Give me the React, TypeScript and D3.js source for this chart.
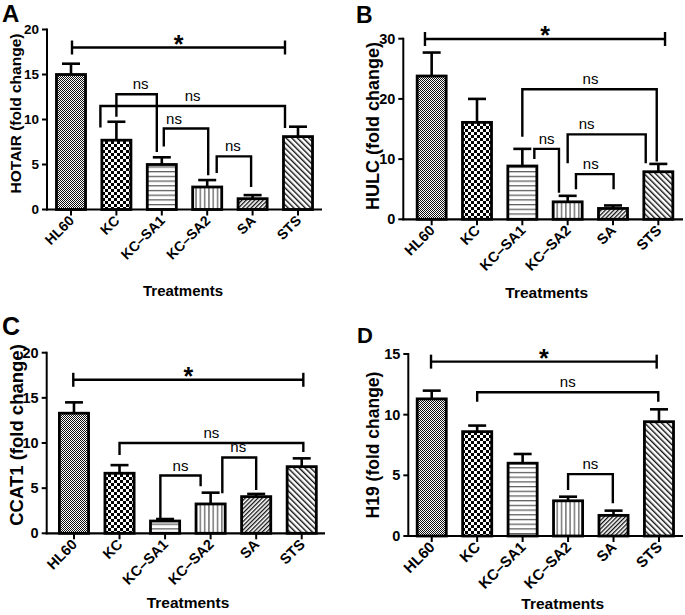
import React from "react";
import * as d3 from "d3";

const categories = ["HL60", "KC", "KC–SA1", "KC–SA2", "SA", "STS"];
const patternIds = ["pFine", "pCheck", "pHoriz", "pVert", "pDiagUp", "pDiagDown"];

const hotairValues = [15.0, 7.7, 5.0, 2.5, 1.2, 8.1];
const hotairErrors = [1.2, 2.05, 0.8, 0.77, 0.4, 1.1];
const hotairTicks = [0, 5, 10, 15, 20];

const hulcValues = [23.8, 16.1, 8.85, 2.9, 1.8, 7.9];
const hulcErrors = [3.9, 3.9, 2.85, 1.0, 0.5, 1.3];
const hulcTicks = [0, 10, 20, 30];

const ccat1Values = [13.3, 6.65, 1.36, 3.25, 4.06, 7.38];
const ccat1Errors = [1.2, 0.9, 0.22, 1.25, 0.3, 0.92];
const ccat1Ticks = [0, 5, 10, 15, 20];

const h19Values = [11.3, 8.6, 6.0, 2.9, 1.7, 9.42];
const h19Errors = [0.68, 0.5, 0.76, 0.34, 0.39, 1.02];
const h19Ticks = [0, 5, 10, 15];

// significance brackets: from/to category index, top level (value), leg ends (value), label
const hotairBrackets = [
  { from: 0, to: 5, top: 18.0, label: "*", dxL: 1, dxR: -13 },
  { from: 1, to: 2, top: 12.8, endL: 10.3, endR: 6.4, label: "ns", dxL: 0, dxR: -5, ldx: 4 },
  { from: 1, to: 5, top: 11.5, endL: 9.1, endR: 9.05, label: "ns", dxL: -16, dxR: -13, ldx: 0 },
  { from: 2, to: 3, top: 9.0, endL: 7.0, endR: 3.8, label: "ns", dxL: 2, dxR: 1, ldx: -12 },
  { from: 3, to: 4, top: 5.9, endL: 4.05, endR: 2.5, label: "ns", dxL: 9.5, dxR: -1.5, ldx: -1 },
];
const hulcBrackets = [
  { from: 0, to: 5, top: 29.95, label: "*", dxL: -6.7, dxR: 6.7 },
  { from: 2, to: 5, top: 21.6, endL: 13.7, endR: 9.6, label: "ns", dxL: 0, dxR: -1.6, ldx: 1 },
  { from: 2, to: 3, top: 11.7, endL: 10.0, endR: 4.4, label: "ns", dxL: 12, dxR: -8.7, ldx: 0 },
  { from: 3, to: 5, top: 14.1, endL: 9.3, endR: 9.3, label: "ns", dxL: 0, dxR: -12.6, ldx: -20 },
  { from: 3, to: 4, top: 7.5, endL: 5.0, endR: 5.0, label: "ns", dxL: 8.3, dxR: 0.6, ldx: -4 },
];
const ccat1Brackets = [
  { from: 0, to: 5, top: 17.0, label: "*", dxL: -0.7, dxR: 1.6 },
  { from: 1, to: 5, top: 10.0, endL: 8.67, endR: 9.0, label: "ns", dxL: 0, dxR: 1.6, ldx: 0 },
  { from: 2, to: 3, top: 6.4, endL: 1.66, endR: 5.2, label: "ns", dxL: -4.7, dxR: -10, ldx: 0 },
  { from: 3, to: 4, top: 8.4, endL: 4.43, endR: 4.8, label: "ns", dxL: 11.7, dxR: 0, ldx: -1 },
];
const h19Brackets = [
  { from: 0, to: 5, top: 14.37, label: "*", dxL: -0.7, dxR: -2.3 },
  { from: 1, to: 5, top: 11.85, endL: 11.07, endR: 11.07, label: "ns", dxL: 0, dxR: -0.7, ldx: 0 },
  { from: 3, to: 4, top: 5.1, endL: 3.8, endR: 2.7, label: "ns", dxL: 0, dxR: -0.7, ldx: 0 },
];

const FONT = "'Liberation Sans', Arial, Helvetica, sans-serif";

type PanelProps = {
  letter: string;
  title: string;
  values: number[];
  errors: number[];
  ticks: number[];
  brackets: any[];
  layout: any;
};

function Panel({ letter, title, values, errors, ticks, brackets, layout: L }: PanelProps) {
  const yMax = ticks[ticks.length - 1];
  const y = d3.scaleLinear().domain([0, yMax]).range([L.y0, L.yTop]);
  const x = d3
    .scaleBand<string>()
    .domain(categories)
    .range(L.xRange)
    .paddingInner(0.36)
    .paddingOuter(0.18);
  const bw = x.bandwidth();
  const cx = (i: number) => (x(categories[i]) as number) + bw / 2;
  const capW = 18;

  return (
    <g fontFamily={FONT}>
      <text x={L.letter[0]} y={L.letter[1]} fontSize={L.letterSize} fontWeight="bold">
        {letter}
      </text>
      <text
        transform={`translate(${L.titleX},${L.titleY}) rotate(-90)`}
        textAnchor="middle"
        dominantBaseline="central"
        fontSize={L.titleSize}
        fontWeight="bold"
      >
        {title}
      </text>
      {values.map((v, i) => (
        <g key={i}>
          <line x1={cx(i)} x2={cx(i)} y1={y(v)} y2={y(v + errors[i])} stroke="#000" strokeWidth={2.6} />
          <line
            x1={cx(i) - capW / 2}
            x2={cx(i) + capW / 2}
            y1={y(v + errors[i])}
            y2={y(v + errors[i])}
            stroke="#000"
            strokeWidth={2.6}
          />
          <rect
            x={x(categories[i])}
            y={y(v)}
            width={bw}
            height={L.y0 - y(v)}
            fill={`url(#${patternIds[i]})`}
            stroke="#000"
            strokeWidth={2.8}
          />
        </g>
      ))}
      <line x1={L.axisX} x2={L.axisX} y1={L.y0 + 1} y2={y(yMax) - 1} stroke="#000" strokeWidth={2} />
      <line x1={L.axisX - 1} x2={L.xAxisEnd} y1={L.y0} y2={L.y0} stroke="#000" strokeWidth={2.2} />
      {ticks.map((t) => (
        <g key={t}>
          <line x1={L.axisX - 5} x2={L.axisX} y1={y(t)} y2={y(t)} stroke="#000" strokeWidth={2} />
          <text
            x={L.axisX - 8}
            y={y(t)}
            textAnchor="end"
            dominantBaseline="central"
            fontSize={L.tickSize}
            fontWeight="bold"
          >
            {t}
          </text>
        </g>
      ))}
      {categories.map((c, i) => (
        <g key={c}>
          <line x1={cx(i)} x2={cx(i)} y1={L.y0} y2={L.y0 + 6} stroke="#000" strokeWidth={2} />
          <text
            transform={`translate(${cx(i) + 4},${L.y0 + 12}) rotate(-45)`}
            textAnchor="end"
            fontSize={L.xSize}
            fontWeight="bold"
          >
            {c}
          </text>
        </g>
      ))}
      <text x={L.treatX} y={L.treatY} textAnchor="middle" fontSize={L.treatSize} fontWeight="bold">
        Treatments
      </text>
      {brackets.map((b, k) => {
        const xl = cx(b.from) + b.dxL;
        const xr = cx(b.to) + b.dxR;
        const yt = y(b.top);
        if (b.label === "*") {
          return (
            <g key={k}>
              <line x1={xl} x2={xr} y1={yt} y2={yt} stroke="#000" strokeWidth={2.4} />
              <line x1={xl} x2={xl} y1={yt - 7} y2={yt + 7} stroke="#000" strokeWidth={2.4} />
              <line x1={xr} x2={xr} y1={yt - 7} y2={yt + 7} stroke="#000" strokeWidth={2.4} />
              <text x={(xl + xr) / 2} y={yt + 5} textAnchor="middle" fontSize={25} fontWeight="bold">
                *
              </text>
            </g>
          );
        }
        const path = `M${xl},${y(b.endL)}V${yt}H${xr}V${y(b.endR)}`;
        return (
          <g key={k}>
            <path d={path} fill="none" stroke="#000" strokeWidth={2.4} />
            <text x={(xl + xr) / 2 + b.ldx} y={yt - 5} textAnchor="middle" fontSize={L.nsSize}>
              {b.label}
            </text>
          </g>
        );
      })}
    </g>
  );
}

const layoutA = {
  axisX: 47, xRange: [48.3, 320.7], xAxisEnd: 322, y0: 209.5, yTop: 29.5,
  letter: [2, 22], letterSize: 24, titleX: 15, titleY: 113.5, titleSize: 15.5,
  tickSize: 13.5, xSize: 14, treatX: 183, treatY: 296, treatSize: 15, nsSize: 15,
};
const layoutB = {
  axisX: 403.3, xRange: [409, 681], xAxisEnd: 683, y0: 219.3, yTop: 38.7,
  letter: [356, 23], letterSize: 23, titleX: 372.5, titleY: 126, titleSize: 18,
  tickSize: 14.5, xSize: 14.5, treatX: 546.7, treatY: 298, treatSize: 15.5, nsSize: 15,
};
const layoutC = {
  axisX: 46.7, xRange: [51.2, 324.5], xAxisEnd: 325, y0: 533.3, yTop: 352.7,
  letter: [2, 335], letterSize: 25, titleX: 16.7, titleY: 435, titleSize: 18.5,
  tickSize: 14.5, xSize: 14.5, treatX: 188, treatY: 608, treatSize: 15.5, nsSize: 15,
};
const layoutD = {
  axisX: 408.3, xRange: [409, 681.7], xAxisEnd: 683, y0: 536, yTop: 354,
  letter: [357, 343], letterSize: 22, titleX: 373, titleY: 445, titleSize: 17.5,
  tickSize: 14.5, xSize: 15, treatX: 562.7, treatY: 609, treatSize: 15.5, nsSize: 15,
};

export default function App() {
  return (
    <svg width={685} height={615} style={{ position: "absolute", left: 0, top: 0, background: "#fff" }}>
      <defs>
        <pattern id="pFine" patternUnits="userSpaceOnUse" width={2} height={2}>
          <rect width={2} height={2} fill="#fff" />
          <rect width={1} height={1} fill="#111" />
          <rect x={1} y={1} width={1} height={1} fill="#111" />
        </pattern>
        <pattern id="pCheck" patternUnits="userSpaceOnUse" width={6} height={6}>
          <rect width={6} height={6} fill="#fff" />
          <rect width={3} height={3} fill="#000" />
          <rect x={3} y={3} width={3} height={3} fill="#000" />
        </pattern>
        <pattern id="pHoriz" patternUnits="userSpaceOnUse" width={5} height={4.7}>
          <rect width={5} height={4.7} fill="#fff" />
          <rect y={2} width={5} height={1.1} fill="#444" />
        </pattern>
        <pattern id="pVert" patternUnits="userSpaceOnUse" width={4.3} height={5}>
          <rect width={4.3} height={5} fill="#fff" />
          <rect x={2} width={1.1} height={5} fill="#444" />
        </pattern>
        <pattern id="pDiagUp" patternUnits="userSpaceOnUse" width={3} height={3} patternTransform="rotate(45)">
          <rect width={3} height={3} fill="#fff" />
          <rect width={1.3} height={3} fill="#111" />
        </pattern>
        <pattern id="pDiagDown" patternUnits="userSpaceOnUse" width={4} height={4} patternTransform="rotate(-45)">
          <rect width={4} height={4} fill="#fff" />
          <rect width={1.4} height={4} fill="#111" />
        </pattern>
      </defs>
      <Panel letter="A" title="HOTAIR (fold change)" values={hotairValues} errors={hotairErrors} ticks={hotairTicks} brackets={hotairBrackets} layout={layoutA} />
      <Panel letter="B" title="HULC (fold change)" values={hulcValues} errors={hulcErrors} ticks={hulcTicks} brackets={hulcBrackets} layout={layoutB} />
      <Panel letter="C" title="CCAT1 (fold change)" values={ccat1Values} errors={ccat1Errors} ticks={ccat1Ticks} brackets={ccat1Brackets} layout={layoutC} />
      <Panel letter="D" title="H19 (fold change)" values={h19Values} errors={h19Errors} ticks={h19Ticks} brackets={h19Brackets} layout={layoutD} />
    </svg>
  );
}
